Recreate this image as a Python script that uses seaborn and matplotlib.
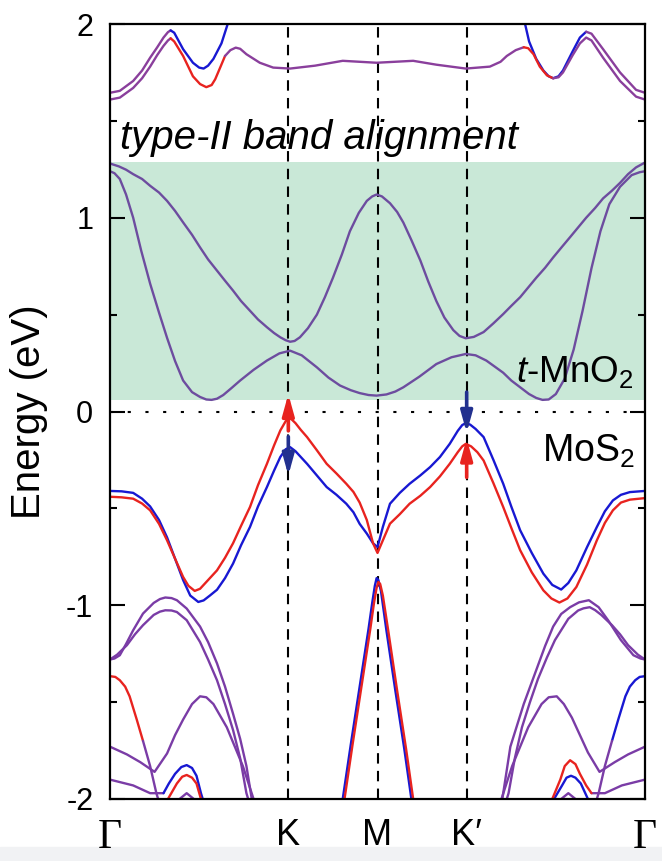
import numpy as np
import pandas as pd
import matplotlib
matplotlib.use('Agg')
import matplotlib.pyplot as plt
import seaborn as sns
from matplotlib.patches import Rectangle

# k-path and labels
k_ticks = [0, 2, 3, 4, 6]
k_labels = ['Γ', 'K', 'M', 'K′', 'Γ']
y_ticks = [-2, -1, 0, 1, 2]
y_minor = [-1.5, -0.5, 0.5, 1.5]

# shaded t-MnO2 window
mno2_lo, mno2_hi = 0.06, 1.29

# --- high conduction bands (MoS2) ---
cbA_k = [0.0, 0.11, 0.26, 0.36, 0.45, 0.53, 0.60, 0.65, 0.68]
cbA_e = [1.645, 1.655, 1.706, 1.76, 1.826, 1.88, 1.93, 1.958, 1.967]
cbA_dn_k = [0.68, 0.72, 0.82, 0.93, 1.00, 1.05, 1.10, 1.16, 1.25, 1.32, 1.35]
cbA_dn_e = [1.967, 1.955, 1.87, 1.80, 1.775, 1.77, 1.785, 1.82, 1.90, 2.0, 2.05]

cbB_k = [0.0, 0.11, 0.26, 0.36, 0.45, 0.53, 0.60, 0.65, 0.68]
cbB_e = [1.61, 1.62, 1.67, 1.72, 1.78, 1.84, 1.887, 1.915, 1.926]
cbB_up_k = [0.68, 0.72, 0.82, 0.93, 1.01, 1.08, 1.14, 1.18, 1.24, 1.29]
cbB_up_e = [1.926, 1.91, 1.835, 1.73, 1.69, 1.674, 1.685, 1.715, 1.78, 1.835]
cbB_mid_k = [1.29, 1.35, 1.41, 1.46, 1.53, 1.68, 1.83, 2.02, 2.3, 2.61, 2.99, 3.40, 3.66, 3.99, 4.26,
             4.38, 4.45, 4.55, 4.64]
cbB_mid_e = [1.835, 1.865, 1.878, 1.872, 1.844, 1.80, 1.775, 1.77, 1.785, 1.81, 1.80, 1.81, 1.79, 1.77, 1.78,
             1.805, 1.835, 1.865, 1.88]
cbB_up2_k = [4.64, 4.69, 4.75, 4.82, 4.90, 4.97]
cbB_up2_e = [1.88, 1.875, 1.844, 1.78, 1.735, 1.72]
cbB_end_k = [4.97, 5.03, 5.08, 5.19, 5.27, 5.34, 5.40, 5.53, 5.72, 5.90, 6.0]
cbB_end_e = [1.72, 1.725, 1.75, 1.84, 1.90, 1.93, 1.915, 1.826, 1.706, 1.625, 1.61]

cbC_dn_k = [4.63, 4.70, 4.78, 4.86, 4.92, 4.97, 5.03, 5.08, 5.19, 5.27, 5.34]
cbC_dn_e = [2.05, 1.91, 1.82, 1.76, 1.73, 1.72, 1.73, 1.76, 1.86, 1.93, 1.96]
cbC_k = [5.34, 5.40, 5.53, 5.72, 5.90, 6.0]
cbC_e = [1.96, 1.95, 1.87, 1.75, 1.66, 1.645]

# --- t-MnO2 bands ---
mn1_k = [0.0, 0.10, 0.18, 0.26, 0.36, 0.45, 0.55, 0.64, 0.73, 0.82, 0.92, 1.01, 1.10, 1.20, 1.29, 1.38,
         1.47, 1.57, 1.66, 1.76, 1.84, 1.91, 1.97, 2.02, 2.07, 2.13, 2.22, 2.32, 2.41, 2.50, 2.60,
         2.69, 2.79, 2.88, 2.94, 2.99, 3.05, 3.14, 3.22, 3.29, 3.38, 3.48, 3.57, 3.66, 3.75, 3.85,
         3.92, 3.99, 4.08, 4.19, 4.30, 4.41, 4.50, 4.60, 4.69, 4.78, 4.88, 4.97, 5.06, 5.16, 5.25,
         5.34, 5.44, 5.53, 5.63, 5.72, 5.81, 5.90, 6.0]
mn1_e = [1.28, 1.265, 1.248, 1.225, 1.20, 1.165, 1.13, 1.087, 1.035, 0.976, 0.912, 0.847, 0.785, 0.727,
         0.675, 0.624, 0.57, 0.52, 0.475, 0.435, 0.405, 0.383, 0.368, 0.36, 0.364, 0.383, 0.43, 0.50,
         0.59, 0.69, 0.81, 0.93, 1.025, 1.087, 1.11, 1.12, 1.11, 1.075, 1.03, 0.975, 0.885, 0.78,
         0.67, 0.57, 0.485, 0.42, 0.39, 0.378, 0.385, 0.41, 0.455, 0.503, 0.545, 0.59, 0.64, 0.69,
         0.742, 0.795, 0.845, 0.90, 0.95, 1.00, 1.05, 1.10, 1.14, 1.18, 1.225, 1.26, 1.285]
mn2_k = [0.0, 0.05, 0.11, 0.18, 0.26, 0.35, 0.45, 0.55, 0.64, 0.73, 0.82, 0.92, 1.01, 1.08, 1.14, 1.20,
         1.27, 1.36, 1.46, 1.61, 1.76, 1.90, 2.02, 2.15, 2.32, 2.45, 2.58, 2.70, 2.80, 2.90, 2.99,
         3.10, 3.20, 3.29, 3.47, 3.66, 3.83, 3.99, 4.10, 4.22, 4.32, 4.41, 4.50, 4.60, 4.70, 4.78,
         4.85, 4.92, 5.0, 5.1, 5.2, 5.3, 5.4, 5.5, 5.6, 5.72, 5.85, 5.94, 6.0]
mn2_e = [1.24, 1.23, 1.20, 1.12, 1.00, 0.83, 0.66, 0.51, 0.38, 0.26, 0.16, 0.10, 0.075, 0.062, 0.06,
         0.066, 0.085, 0.12, 0.16, 0.215, 0.263, 0.30, 0.314, 0.29, 0.228, 0.175, 0.134, 0.11, 0.095,
         0.085, 0.082, 0.088, 0.103, 0.125, 0.18, 0.245, 0.28, 0.297, 0.29, 0.263, 0.23, 0.20, 0.16,
         0.125, 0.09, 0.07, 0.06, 0.062, 0.09, 0.17, 0.32, 0.52, 0.74, 0.93, 1.07, 1.16, 1.22, 1.235, 1.24]

# --- MoS2 top valence band, spin up / spin down ---
vb_up_k = [0.0, 0.13, 0.26, 0.36, 0.45, 0.55, 0.64, 0.73, 0.82, 0.88, 0.95, 1.01, 1.08, 1.20, 1.29,
           1.38, 1.47, 1.57, 1.66, 1.76, 1.84, 1.91, 1.97, 2.02, 2.08, 2.14, 2.21, 2.32, 2.43, 2.54,
           2.65, 2.73, 2.80, 2.88, 2.95, 3.0, 3.06, 3.14, 3.25, 3.36, 3.48, 3.59, 3.70, 3.81, 3.90,
           3.95, 3.99, 4.05, 4.12, 4.19, 4.30, 4.41, 4.50, 4.60, 4.73, 4.86, 4.95, 5.04, 5.13, 5.23,
           5.35, 5.46, 5.55, 5.64, 5.73, 5.83, 6.0]
vb_up_e = [-0.44, -0.443, -0.45, -0.475, -0.51, -0.58, -0.665, -0.76, -0.854, -0.90, -0.926, -0.915, -0.88,
           -0.82, -0.755, -0.68, -0.59, -0.493, -0.38, -0.27, -0.175, -0.098, -0.05, -0.033, -0.06, -0.095,
           -0.132, -0.20, -0.27, -0.32, -0.373, -0.415, -0.47, -0.56, -0.68, -0.73, -0.665, -0.579, -0.53,
           -0.476, -0.435, -0.39, -0.335, -0.27, -0.21, -0.18, -0.167, -0.18, -0.21, -0.253, -0.37, -0.493,
           -0.60, -0.716, -0.83, -0.923, -0.965, -0.986, -0.965, -0.906, -0.79, -0.665, -0.575, -0.51,
           -0.47, -0.455, -0.447]
vb_dn_k = [0.0, 0.13, 0.26, 0.36, 0.45, 0.55, 0.64, 0.73, 0.82, 0.90, 0.99, 1.05, 1.12, 1.20, 1.29,
           1.38, 1.47, 1.57, 1.66, 1.76, 1.84, 1.91, 1.97, 2.02, 2.08, 2.14, 2.21, 2.32, 2.43, 2.54,
           2.65, 2.73, 2.80, 2.88, 2.95, 3.0, 3.06, 3.14, 3.25, 3.36, 3.48, 3.59, 3.70, 3.81, 3.90,
           3.95, 3.99, 4.04, 4.10, 4.19, 4.30, 4.41, 4.50, 4.60, 4.73, 4.86, 4.96, 5.06, 5.14, 5.23,
           5.35, 5.46, 5.55, 5.64, 5.73, 5.83, 6.0]
vb_dn_e = [-0.41, -0.412, -0.42, -0.45, -0.49, -0.56, -0.65, -0.76, -0.87, -0.95, -0.983, -0.975, -0.95,
           -0.92, -0.86, -0.785, -0.69, -0.596, -0.49, -0.39, -0.305, -0.235, -0.195, -0.184, -0.205,
           -0.235, -0.27, -0.33, -0.39, -0.43, -0.476, -0.52, -0.58, -0.63, -0.68, -0.70, -0.596, -0.476,
           -0.42, -0.373, -0.33, -0.287, -0.235, -0.167, -0.10, -0.07, -0.06, -0.068, -0.09, -0.132,
           -0.25, -0.373, -0.49, -0.613, -0.73, -0.837, -0.895, -0.919, -0.885, -0.82, -0.70, -0.596,
           -0.515, -0.459, -0.43, -0.416, -0.41]

# --- deeper valence bands ---
L1_k = [0.0, 0.05, 0.11, 0.18, 0.26, 0.37, 0.49, 0.56, 0.62, 0.69, 0.75, 0.86, 1.01, 1.10, 1.20,
        1.29, 1.38, 1.46, 1.53, 1.59]
L1_e = [-1.28, -1.275, -1.258, -1.20, -1.129, -1.043, -0.988, -0.968, -0.96, -0.963, -0.974, -1.017,
        -1.11, -1.19, -1.30, -1.42, -1.56, -1.69, -1.83, -2.0]
L2_k = [0.0, 0.08, 0.19, 0.28, 0.37, 0.49, 0.56, 0.62, 0.69, 0.75, 0.86, 1.01, 1.10, 1.20, 1.29,
        1.38, 1.46, 1.53, 1.55]
L2_e = [-1.28, -1.255, -1.206, -1.15, -1.103, -1.05, -1.033, -1.026, -1.027, -1.035, -1.077, -1.19,
        -1.28, -1.387, -1.51, -1.644, -1.79, -1.97, -2.0]
L3_k = [0.0, 0.06, 0.11, 0.17, 0.22, 0.30, 0.37]
L3_e = [-1.366, -1.37, -1.387, -1.42, -1.47, -1.59, -1.70]
L3b_k = [0.37, 0.45, 0.52, 0.54]
L3b_e = [-1.70, -1.83, -1.97, -2.0]
L4_k = [0.0, 0.19, 0.34, 0.50, 0.64, 0.73, 0.82, 0.92, 1.01, 1.08, 1.16, 1.31, 1.49, 1.61]
L4_e = [-1.73, -1.77, -1.81, -1.86, -1.765, -1.67, -1.59, -1.51, -1.47, -1.475, -1.51, -1.63, -1.83, -2.0]
L5_k = [0.0, 0.26, 0.45, 0.60]
L5_e = [-1.90, -1.93, -1.97, -1.97]
L5_dn_k = [0.60, 0.66, 0.73, 0.80, 0.86, 0.92, 0.97, 1.02, 1.04]
L5_dn_e = [-1.97, -1.92, -1.87, -1.835, -1.825, -1.84, -1.88, -1.97, -2.0]
L5_up_k = [0.65, 0.75, 0.81, 0.86, 0.92, 0.97, 1.02]
L5_up_e = [-2.0, -1.92, -1.885, -1.876, -1.89, -1.92, -2.0]
L6_k = [0.78, 0.86, 0.94]
L6_e = [-2.0, -1.97, -2.0]

R1_k = [4.40, 4.49, 4.64, 4.78, 4.88, 4.97, 5.06, 5.16, 5.26, 5.37, 5.48, 5.59, 5.73, 5.87, 5.95, 6.0]
R1_e = [-2.0, -1.73, -1.51, -1.335, -1.21, -1.11, -1.045, -1.01, -0.985, -0.974, -1.01, -1.08, -1.18,
        -1.258, -1.275, -1.28]
R2_k = [4.45, 4.47, 4.54, 4.62, 4.71, 4.80, 4.90, 4.99, 5.14, 5.25, 5.31, 5.38, 5.44, 5.51, 5.63,
        5.72, 5.81, 5.92, 6.0]
R2_e = [-2.0, -1.97, -1.79, -1.63, -1.50, -1.38, -1.27, -1.18, -1.07, -1.027, -1.016, -1.01, -1.025,
        -1.05, -1.103, -1.15, -1.206, -1.255, -1.28]
R3_k = [5.63, 5.70, 5.78, 5.83, 5.89, 5.94, 6.0]
R3_e = [-1.70, -1.59, -1.47, -1.42, -1.387, -1.37, -1.366]
R3b_k = [5.46, 5.48, 5.55, 5.63]
R3b_e = [-2.0, -1.97, -1.83, -1.70]
R4_k = [4.39, 4.51, 4.69, 4.84, 4.92, 5.01, 5.09, 5.18, 5.27, 5.36, 5.49, 5.66, 5.81, 6.0]
R4_e = [-2.0, -1.83, -1.63, -1.51, -1.475, -1.47, -1.51, -1.58, -1.67, -1.76, -1.86, -1.81, -1.77, -1.73]
R5_k = [5.40, 5.55, 5.74, 6.0]
R5_e = [-1.97, -1.97, -1.93, -1.90]
R5_up_k = [4.96, 5.05, 5.10, 5.16, 5.22, 5.27, 5.34, 5.40]
R5_up_e = [-2.0, -1.90, -1.83, -1.80, -1.82, -1.87, -1.93, -1.97]
R5_dn_k = [4.98, 5.07, 5.12, 5.17, 5.22, 5.28, 5.36]
R5_dn_e = [-2.0, -1.93, -1.89, -1.88, -1.89, -1.92, -2.0]
R6_k = [5.06, 5.14, 5.22]
R6_e = [-2.0, -1.97, -2.0]

# band at M
Mdn_k = [2.61, 2.70, 2.80, 2.90, 2.94, 2.97, 2.99, 3.01, 3.04, 3.10, 3.20, 3.30, 3.38]
Mdn_e = [-2.0, -1.72, -1.42, -1.12, -0.99, -0.90, -0.86, -0.87, -0.93, -1.13, -1.44, -1.74, -2.0]
Mup_k = [2.63, 2.72, 2.82, 2.92, 2.96, 2.99, 3.01, 3.03, 3.06, 3.12, 3.22, 3.32, 3.40]
Mup_e = [-2.0, -1.72, -1.42, -1.12, -0.99, -0.91, -0.88, -0.89, -0.95, -1.13, -1.44, -1.74, -2.0]

# spin arrows at K and K'
arrow_k = [2, 2, 4, 4]
arrow_tail = [-0.10, -0.13, 0.10, -0.34]
arrow_tip = [0.09, -0.33, -0.11, -0.14]

RED = '#e8231f'
BLUE = '#1818d2'
NAVY = '#22308f'
PURP = '#8a3f9c'
PURP_MN = '#6d4c9f'
PURP_VB = '#7a3ca6'
GREEN = '#c9e8d7'

sns.set_style('white')
plt.rcParams['font.family'] = ['Liberation Sans', 'DejaVu Sans']
plt.rcParams['mathtext.fontset'] = 'custom'
plt.rcParams['mathtext.rm'] = 'Liberation Sans'
plt.rcParams['mathtext.it'] = 'Liberation Sans:italic'
plt.rcParams['axes.unicode_minus'] = False
plt.rcParams['text.color'] = 'black'
plt.rcParams['axes.labelcolor'] = 'black'
plt.rcParams['xtick.color'] = 'black'
plt.rcParams['ytick.color'] = 'black'

fig = plt.figure(figsize=(6.62, 8.61), dpi=100)
fig.patches.append(Rectangle((0, 0), 1, 14 / 861, transform=fig.transFigure,
                             color='#f1f2f4', zorder=-1))
ax = fig.add_axes([110 / 662, 1 - 799 / 861, 535 / 662, 775 / 861])

ax.axhspan(mno2_lo, mno2_hi, color=GREEN, lw=0, zorder=0)
for kk in k_ticks[1:4]:
    ax.axvline(kk, color='black', lw=1.5, ls=(0, (5, 3.5)), zorder=1)
ax.axhline(0, color='black', lw=1.5, ls=(0, (1.5, 7)), zorder=1)

segments = [
    (cbA_k, cbA_e, PURP), (cbA_dn_k, cbA_dn_e, BLUE),
    (cbB_k, cbB_e, PURP), (cbB_up_k, cbB_up_e, RED), (cbB_mid_k, cbB_mid_e, PURP),
    (cbC_dn_k, cbC_dn_e, BLUE), (cbB_up2_k, cbB_up2_e, RED), (cbB_end_k, cbB_end_e, PURP),
    (cbC_k, cbC_e, PURP),
    (mn1_k, mn1_e, PURP_MN), (mn2_k, mn2_e, PURP_MN),
    (vb_dn_k, vb_dn_e, BLUE), (vb_up_k, vb_up_e, RED),
    (L1_k, L1_e, PURP_VB), (L2_k, L2_e, PURP_VB), (L3_k, L3_e, RED), (L3b_k, L3b_e, PURP_VB),
    (L4_k, L4_e, PURP_VB), (L5_k, L5_e, PURP_VB), (L5_dn_k, L5_dn_e, BLUE), (L5_up_k, L5_up_e, RED),
    (L6_k, L6_e, PURP_VB),
    (R1_k, R1_e, PURP_VB), (R2_k, R2_e, PURP_VB), (R3_k, R3_e, BLUE), (R3b_k, R3b_e, PURP_VB),
    (R4_k, R4_e, PURP_VB), (R5_k, R5_e, PURP_VB), (R5_dn_k, R5_dn_e, BLUE), (R5_up_k, R5_up_e, RED),
    (R6_k, R6_e, PURP_VB),
    (Mdn_k, Mdn_e, BLUE), (Mup_k, Mup_e, RED),
]
for kk, ee, col in segments:
    sns.lineplot(x=kk, y=ee, sort=False, estimator=None, color=col, lw=1.7, ax=ax, zorder=2,
                 solid_joinstyle='round', solid_capstyle='round')

arrow_cols = [RED, NAVY, NAVY, RED]
for kk, e0, e1, col in zip(arrow_k, arrow_tail, arrow_tip, arrow_cols):
    ax.annotate('', xy=(kk, e1), xytext=(kk, e0), zorder=4,
                arrowprops=dict(arrowstyle='-|>,head_length=0.9,head_width=0.25', color=col,
                                lw=2.6, mutation_scale=14, shrinkA=0, shrinkB=0))

ax.text(0.11, 1.356, 'type-II band alignment', fontsize=29, fontstyle='italic', va='baseline', zorder=5)
ax.text(4.55, 0.151, r'$\mathit{t}$-MnO$_2$', fontsize=26.5, va='baseline', zorder=5)
ax.text(4.85, -0.26, r'MoS$_2$', fontsize=27, va='baseline', zorder=5)

ax.set_xlim(0, 6)
ax.set_ylim(-2, 2)
ax.set_xticks(k_ticks, k_labels)
ax.set_yticks(y_ticks)
ax.set_yticks(y_minor, minor=True)
ax.tick_params(axis='x', length=0, labelsize=26, pad=14)
ax.tick_params(axis='y', which='major', direction='in', length=11, width=1.5,
               left=True, right=True, labelsize=22, pad=12)
ax.tick_params(axis='y', which='minor', direction='in', length=5, width=1.5,
               left=True, right=True)
for lbl in ax.get_xticklabels():
    if lbl.get_text() == 'Γ':
        lbl.set_fontfamily(['Liberation Serif', 'DejaVu Serif'])
        lbl.set_fontsize(30)
ax.set_xlabel('')
ax.set_ylabel('Energy (eV)', fontsize=29)
ax.yaxis.set_label_coords(-0.115, 0.5)
for sp in ax.spines.values():
    sp.set_color('black')
    sp.set_linewidth(1.6)

fig.savefig('out.png', dpi=100)
